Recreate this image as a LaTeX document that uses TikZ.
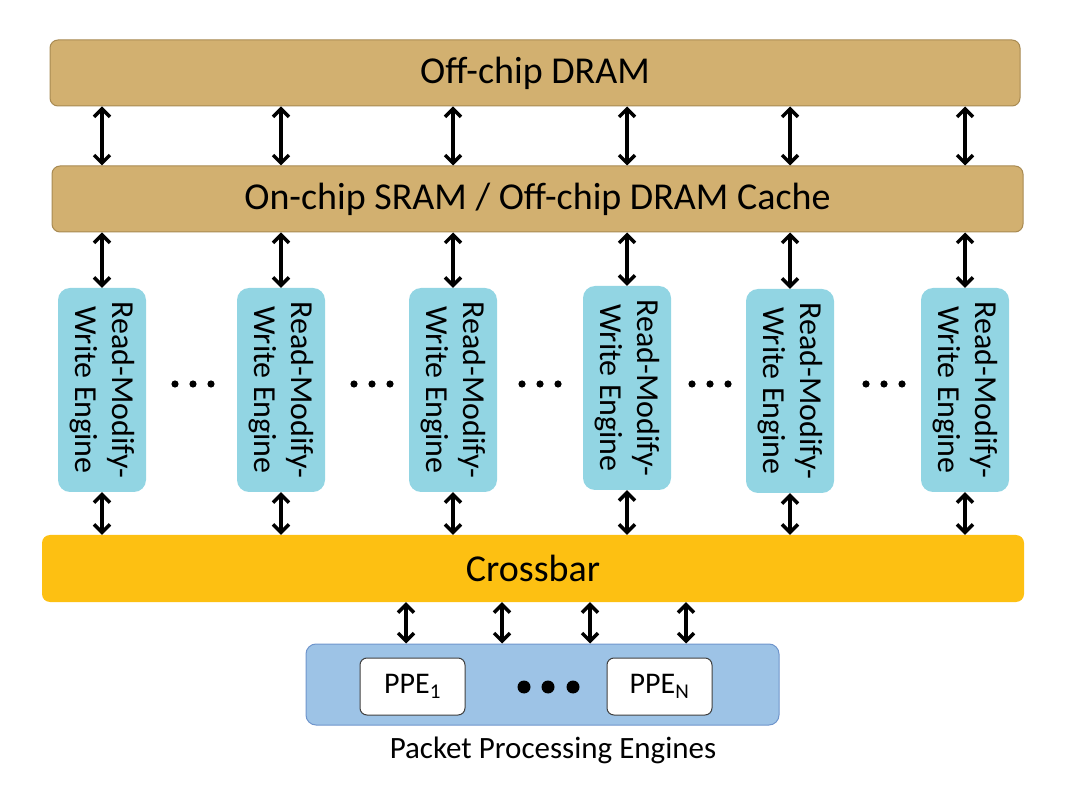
\documentclass[tikz,border=0pt]{standalone}
\usepackage{fontspec}
\setmainfont{Carlito}
\usetikzlibrary{arrows.meta}
\definecolor{tan}{HTML}{D2B070}
\definecolor{tanline}{HTML}{A88A52}
\definecolor{rmw}{HTML}{92D5E3}
\definecolor{xbar}{HTML}{FDC012}
\definecolor{ppeblue}{HTML}{9DC3E6}
\definecolor{ppeline}{HTML}{6F95CC}
\tikzset{
  x=1pt, y=-1pt,
  bigbox/.style={draw=tanline, line width=1pt, fill=tan, rounded corners=8pt, inner sep=0pt, font=\fontsize{38}{42}\selectfont},
  rmwbox/.style={fill=rmw, rounded corners=12pt, rotate=-90, minimum width=204pt, minimum height=88pt, inner sep=0pt, align=center, font=\fontsize{32}{37}\selectfont},
  xbarbox/.style={fill=xbar, rounded corners=8pt, inner sep=0pt, font=\fontsize{38}{42}\selectfont},
  ppebox/.style={draw=black!75, line width=1pt, fill=white, rounded corners=7pt, minimum width=105pt, minimum height=57pt, inner sep=0pt, font=\fontsize{30}{32}\selectfont},
  barb/.tip={Straight Barb[length=8pt,width=16pt,line width=3.5pt]},
  biarrow/.style={draw=black, line width=3.5pt, barb-barb},
  dot/.style={fill=black}
}
\begin{document}
\begin{tikzpicture}
\useasboundingbox (0,0) rectangle (1080,791);
% main boxes
\node[bigbox, minimum width=970pt, minimum height=66pt] (dram) at (535,73) {Off-chip DRAM};
\node[bigbox, minimum width=971pt, minimum height=66pt] (sram) at (537.5,199) {On-chip SRAM / Off-chip DRAM Cache};
\node[xbarbox, minimum width=982pt, minimum height=67pt] (xbar) at (533,568.5) {Crossbar};
% engines
\node[rmwbox] (e1) at (102,390) {Read-Modify-\\Write Engine};
\node[rmwbox] (e2) at (281,390) {Read-Modify-\\Write Engine};
\node[rmwbox] (e3) at (453,390) {Read-Modify-\\Write Engine};
\node[rmwbox] (e4) at (627,388) {Read-Modify-\\Write Engine};
\node[rmwbox] (e5) at (790,391) {Read-Modify-\\Write Engine};
\node[rmwbox] (e6) at (965,390) {Read-Modify-\\Write Engine};
% dots between engines
\foreach \cx in {193,372,540,710,884}{
  \foreach \d in {-18,0,18}{
    \fill[dot] (\cx+\d,384) circle (3.6pt);
  }
}
% arrows DRAM <-> SRAM and SRAM <-> engines <-> crossbar
\foreach \n/\ax in {e1/102,e2/281,e3/453,e4/627,e5/790,e6/965}{
  \draw[biarrow] (dram.south -| \ax,0) -- (sram.north -| \ax,0);
  \draw[biarrow] (sram.south -| \ax,0) -- (\n.west);
  \draw[biarrow] (\n.east) -- (xbar.north -| \ax,0);
}
% PPE block
\node[draw=ppeline, line width=1pt, fill=ppeblue, rounded corners=10pt, minimum width=473pt, minimum height=81pt, inner sep=0pt] (ppes) at (542.5,684.5) {};
\node[ppebox] (p1) at (412.5,686.5) {PPE\textsubscript{1}};
\node[ppebox] (pn) at (659.5,686.5) {PPE\textsubscript{N}};
\foreach \cx in {524,548,573}{
  \fill[dot] (\cx,687) circle (6.5pt);
}
\node[font=\fontsize{31}{33}\selectfont, inner sep=0pt] (plabel) at (553,750) {Packet Processing Engines};
\foreach \ax in {406,502,590,686}{
  \draw[biarrow] (xbar.south -| \ax,0) -- (ppes.north -| \ax,0);
}
\end{tikzpicture}
\end{document}
